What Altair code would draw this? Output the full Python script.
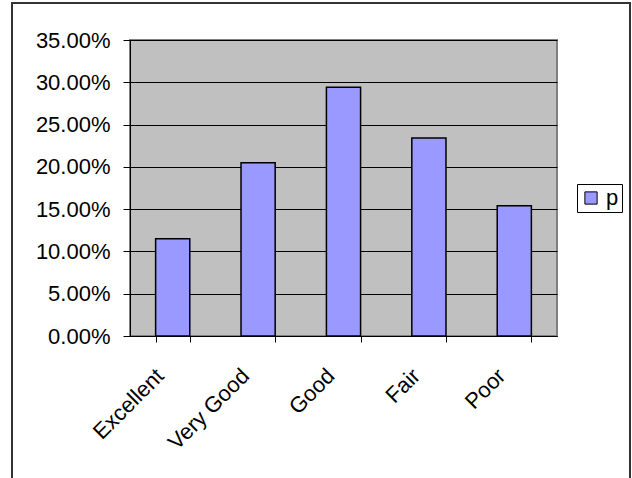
import altair as alt
import pandas as pd

categories = ["Excellent", "Very Good", "Good", "Fair", "Poor"]
p_values = [0.115, 0.205, 0.294, 0.234, 0.154]
series_name = ["p"] * len(categories)
y_ticks = [0.0, 0.05, 0.10, 0.15, 0.20, 0.25, 0.30, 0.35]

df = pd.DataFrame({"cat": categories, "p": p_values, "series": series_name})

FONT = "Liberation Sans"

bars = alt.Chart(df).mark_bar(stroke="black", strokeWidth=1.5).encode(
    x=alt.X(
        "cat:N",
        sort=categories,
        scale=alt.Scale(paddingInner=0.6, paddingOuter=0.3),
        axis=alt.Axis(
            title=None,
            labelAngle=-45,
            labelAlign="right",
            labelBaseline="middle",
            tickBand="extent",
            tickSize=6,
            tickColor="black",
            domainColor="black",
            labelFont=FONT,
            labelFontSize=22,
            labelColor="black",
            labelPadding=30,
            labelOffset=-13,
            grid=False,
        ),
    ),
    y=alt.Y(
        "p:Q",
        scale=alt.Scale(domain=[0, 0.35], nice=False),
        axis=alt.Axis(
            title=None,
            values=y_ticks,
            format=".2%",
            tickSize=7,
            tickColor="black",
            domainColor="black",
            gridColor="black",
            gridWidth=1,
            labelFont=FONT,
            labelFontSize=22,
            labelColor="black",
            labelPadding=13,
        ),
    ),
    color=alt.Color(
        "series:N",
        scale=alt.Scale(domain=["p"], range=["#9999FF"]),
        legend=alt.Legend(
            title=None,
            orient="none",
            legendX=447,
            legendY=144,
            strokeColor="black",
            fillColor="white",
            padding=3,
            symbolType="square",
            symbolSize=150,
            symbolStrokeColor="black",
            symbolStrokeWidth=1,
            labelFont=FONT,
            labelFontSize=22,
            labelColor="black",
        ),
    ),
)

frame_df = pd.DataFrame({"k": [1]})
frame = alt.Chart(frame_df).mark_rect(
    fill=None, stroke="#333333", strokeWidth=2, clip=False
).encode(
    x=alt.value(-118),
    x2=alt.value(500),
    y=alt.value(-37),
    y2=alt.value(445),
)

chart = alt.layer(bars, frame).properties(
    width=427,
    height=296,
    autosize=alt.AutoSizeParams(type="none"),
    padding={"left": 130, "top": 40, "right": 75, "bottom": 142},
    background="white",
).configure_view(fill="#C0C0C0", stroke="#808080", strokeWidth=2)

chart.save("out.html", embed_options={"renderer": "svg", "actions": False})
